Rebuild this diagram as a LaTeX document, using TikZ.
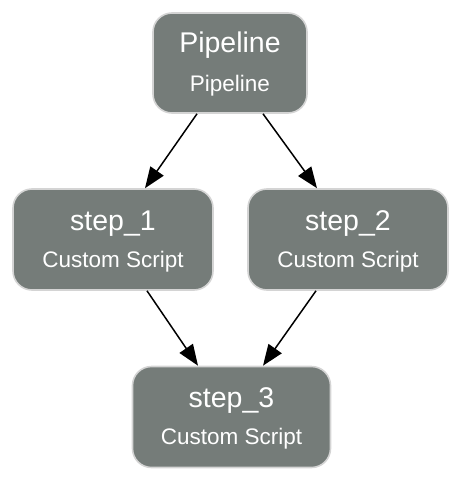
\documentclass[tikz,border=0pt]{standalone}
\usepackage{fontspec}
\setmainfont{Liberation Sans}
\usetikzlibrary{arrows.meta,calc}
\definecolor{boxfill}{RGB}{117,124,121}
\definecolor{boxline}{RGB}{212,212,212}
\begin{document}
\begin{tikzpicture}[x=1pt,y=-1pt,
  box/.style={draw=boxline, line width=1.6pt, fill=boxfill, rounded corners=19pt, inner sep=0pt},
  ttl/.style={text=white, font=\fontsize{28.5}{30}\selectfont, anchor=base, inner sep=0pt},
  sub/.style={text=white, font=\fontsize{22.5}{24}\selectfont, anchor=base, inner sep=0pt},
  arr/.style={line width=1.5pt, -{Triangle[length=21pt,width=16pt]}}]
\useasboundingbox (0,0) rectangle (466,482);
% boxes
\node[box, minimum width=154pt, minimum height=100pt] (p) at (230,63) {};
\node[box, minimum width=200pt, minimum height=101pt] (s1) at (113,239.5) {};
\node[box, minimum width=200pt, minimum height=101pt] (s2) at (348,239.5) {};
\node[box, minimum width=198pt, minimum height=101pt] (s3) at (231.5,417) {};
% texts
\node[ttl] (pt) at ($(p.center)+(0,-11)$) {Pipeline};
\node[sub] (ps) at ($(p.center)+(0,28)$) {Pipeline};
\node[ttl] (s1t) at ($(s1.center)+(0,-9.5)$) {step\_1};
\node[sub] (s1s) at ($(s1.center)+(0,27.5)$) {Custom Script};
\node[ttl] (s2t) at ($(s2.center)+(0,-9.5)$) {step\_2};
\node[sub] (s2s) at ($(s2.center)+(0,27.5)$) {Custom Script};
\node[ttl] (s3t) at ($(s3.center)+(0,-9.5)$) {step\_3};
\node[sub] (s3s) at ($(s3.center)+(0,27.5)$) {Custom Script};
% arrows
\draw[arr] ($(p.south)+(-33,0)$) -- ($(s1.north)+(32,0)$);
\draw[arr] ($(p.south)+(33,0)$) -- ($(s2.north)+(-31,0)$);
\draw[arr] ($(s1.south)+(34,0)$) -- ($(s3.north)+(-33.5,0)$);
\draw[arr] ($(s2.south)+(-32,0)$) -- ($(s3.north)+(31.5,0)$);
\end{tikzpicture}
\end{document}
